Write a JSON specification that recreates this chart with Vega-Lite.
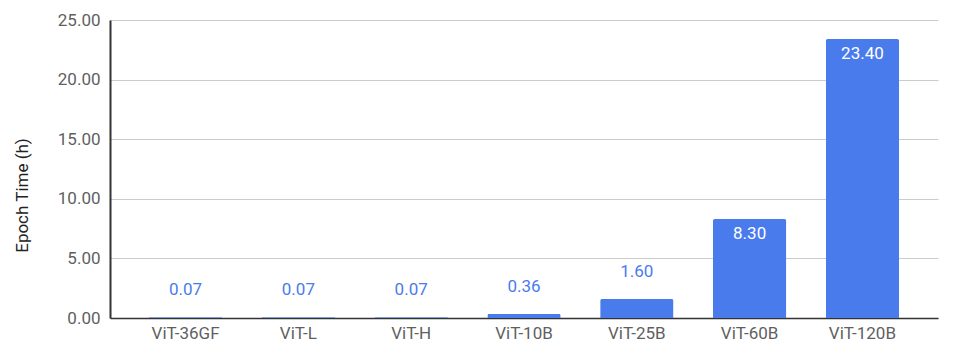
{
  "$schema": "https://vega.github.io/schema/vega-lite/v6.json",
  "autosize": {"type": "none"},
  "padding": {"left": 110, "top": 20, "right": 16, "bottom": 37},
  "width": 828,
  "height": 298,
  "background": "white",
  "config": {
    "view": {"stroke": null},
    "font": "Roboto"
  },
  "data": {
    "values": [
      {"model": "ViT-36GF", "time": 0.07},
      {"model": "ViT-L", "time": 0.07},
      {"model": "ViT-H", "time": 0.07},
      {"model": "ViT-10B", "time": 0.36},
      {"model": "ViT-25B", "time": 1.6},
      {"model": "ViT-60B", "time": 8.3},
      {"model": "ViT-120B", "time": 23.4}
    ]
  },
  "encoding": {
    "x": {
      "field": "model",
      "type": "nominal",
      "sort": null,
      "scale": {"paddingInner": 0.35, "paddingOuter": 0.345},
      "axis": {
        "title": null,
        "labelAngle": 0,
        "labelFontSize": 17,
        "labelColor": "#5f5f5f",
        "labelPadding": 7,
        "ticks": false,
        "domainColor": "#333333",
        "domainWidth": 1.5
      }
    },
    "y": {
      "field": "time",
      "type": "quantitative",
      "scale": {"domain": [0, 25], "nice": false},
      "axis": {
        "title": "Epoch Time (h)",
        "titleFontSize": 17,
        "titleFontWeight": "normal",
        "titleColor": "#222222",
        "titlePadding": 26,
        "titleY": 175,
        "format": ".2f",
        "values": [0, 5, 10, 15, 20, 25],
        "labelFontSize": 17,
        "labelColor": "#5f5f5f",
        "labelPadding": 10,
        "ticks": false,
        "domainColor": "#333333",
        "domainWidth": 2,
        "gridColor": "#cccccc",
        "gridWidth": 1
      }
    }
  },
  "layer": [
    {
      "mark": {"type": "bar", "color": "#4a7bec", "cornerRadiusTopLeft": 2, "cornerRadiusTopRight": 2}
    },
    {
      "transform": [{"filter": "datum.time < 5"}],
      "mark": {"type": "text", "baseline": "middle", "dy": -27, "fontSize": 17, "color": "#4a7bec"},
      "encoding": {"text": {"field": "time", "type": "quantitative", "format": ".2f"}}
    },
    {
      "transform": [{"filter": "datum.time >= 5"}],
      "mark": {"type": "text", "baseline": "middle", "dy": 15, "fontSize": 17, "color": "white"},
      "encoding": {"text": {"field": "time", "type": "quantitative", "format": ".2f"}}
    }
  ]
}
